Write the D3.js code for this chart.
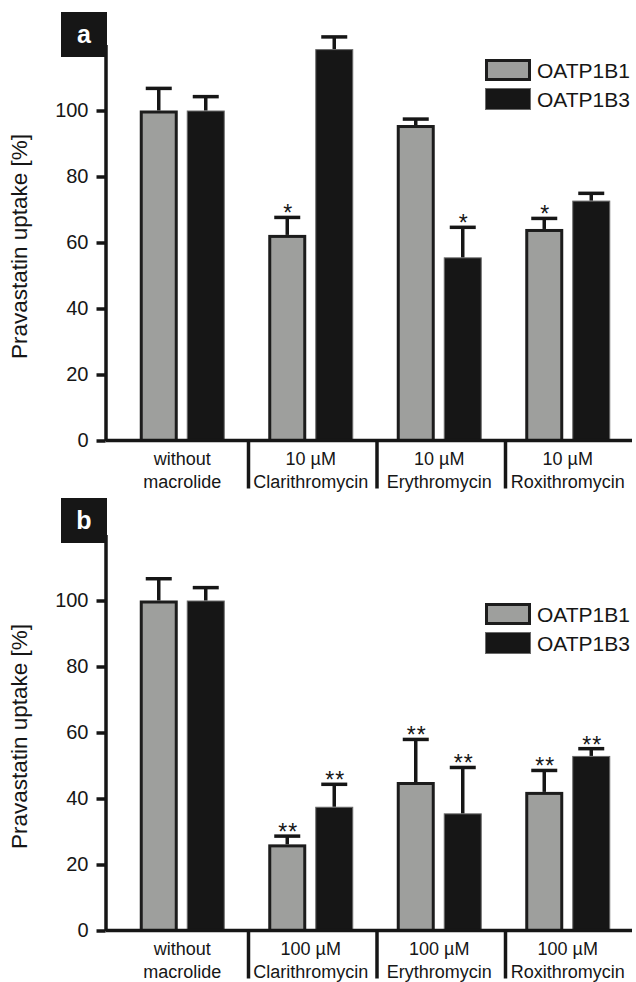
<!DOCTYPE html>
<html>
<head>
<meta charset="utf-8">
<script src="https://cdn.jsdelivr.net/npm/d3@7"></script>
<style>
body { margin: 0; background: #fff; }
svg { display: block; font-family: "Liberation Sans", Arial, sans-serif; }
</style>
</head>
<body>
<svg width="636" height="982"></svg>
<script>
var series = ["OATP1B1", "OATP1B3"];
var groups = ["g1", "g2", "g3", "g4"];
var yTicks = [0, 20, 40, 60, 80, 100];

var labelsTopA = ["without", "10 µM", "10 µM", "10 µM"];
var labelsTopB = ["without", "100 µM", "100 µM", "100 µM"];
var labelsBottom = ["macrolide", "Clarithromycin", "Erythromycin", "Roxithromycin"];

// panel a: 10 µM macrolides
var grayA = [100, 62.3, 95.6, 64.1];
var graySdA = [6.7, 5.3, 1.8, 3.2];
var blackA = [100, 118.6, 55.5, 72.7];
var blackSdA = [4.2, 3.7, 9.1, 2.2];
var grayStarsA = ["", "*", "", "*"];
var blackStarsA = ["", "", "*", ""];

// panel b: 100 µM macrolides
var grayB = [100, 26.1, 45, 42];
var graySdB = [6.6, 2.5, 12.9, 6.5];
var blackB = [100, 37.5, 35.5, 52.9];
var blackSdB = [3.9, 6.8, 13.9, 2.2];
var grayStarsB = ["", "**", "**", "**"];
var blackStarsB = ["", "**", "**", "**"];

var svg = d3.select("svg");
var ink = "#161616";
var grayFill = "#9e9f9d";
var axisX = 105.5;

var y = d3.scaleLinear().domain([0, 120]).range([440.5, 44.5]);
var x0 = d3.scaleBand().domain(groups).range([118, 632]);
var x1 = d3.scaleBand().domain(series).range([0, 85]).paddingInner(9 / 47);

function tr(x, y) {
	return "translate(" + x + ", " + y + ")";
}

function rows(vals, sds, stars, s) {
	return groups.map(function (g, i) {
		return { group: g, series: s, value: vals[i], sd: sds[i], star: stars[i] };
	});
}

function drawPanel(off, letter, boxY, legendY, top, gray, graySd, grayStars, black, blackSd, blackStars) {
	var g = svg.append("g").attr("transform", tr(0, off));
	var data = rows(gray, graySd, grayStars, "OATP1B1").concat(rows(black, blackSd, blackStars, "OATP1B3"));

	// y axis
	var ya = g.append("g")
	    .attr("transform", tr(axisX, 0))
	    .call(d3.axisLeft(y).tickValues(yTicks).tickSize(9).tickPadding(8).tickSizeOuter(0));
	ya.select(".domain").attr("stroke", ink).attr("stroke-width", 3.5);
	ya.selectAll(".tick line").attr("stroke", ink).attr("stroke-width", 3.5);
	ya.selectAll(".tick text")
	    .attr("font-size", 20)
	    .attr("font-family", "Liberation Sans, Arial, sans-serif")
	    .attr("fill", ink);

	// bars
	var bars = g.selectAll(".bar").data(data).enter().append("g")
	    .attr("transform", function (d) { return tr(x0(d.group) + x0.bandwidth() / 2 - 42.5 + x1(d.series), 0); });

	bars.append("rect")
	    .attr("x", function (d) { return d.series == "OATP1B1" ? 1.5 : 0.5; })
	    .attr("y", function (d) { return y(d.value) + (d.series == "OATP1B1" ? 1.5 : 0.5); })
	    .attr("width", function (d) { return x1.bandwidth() - (d.series == "OATP1B1" ? 3 : 1); })
	    .attr("height", function (d) { return y(0) - y(d.value) - 1.5; })
	    .attr("fill", function (d) { return d.series == "OATP1B1" ? grayFill : ink; })
	    .attr("stroke", function (d) { return d.series == "OATP1B1" ? "#1c1c1c" : "#6a6a6a"; })
	    .attr("stroke-width", function (d) { return d.series == "OATP1B1" ? 3 : 1; });

	// error bars
	var cx = x1.bandwidth() / 2;
	bars.append("line")
	    .attr("x1", cx).attr("x2", cx)
	    .attr("y1", function (d) { return y(d.value); })
	    .attr("y2", function (d) { return y(d.value + d.sd); })
	    .attr("stroke", ink).attr("stroke-width", 3.5);
	bars.append("line")
	    .attr("x1", cx - 13).attr("x2", cx + 13)
	    .attr("y1", function (d) { return y(d.value + d.sd); })
	    .attr("y2", function (d) { return y(d.value + d.sd); })
	    .attr("stroke", ink).attr("stroke-width", 3.5);

	// significance
	bars.append("text")
	    .attr("x", cx + 1)
	    .attr("y", function (d) { return y(d.value + d.sd) + 4; })
	    .attr("text-anchor", "middle")
	    .attr("font-size", 23)
	    .attr("letter-spacing", 1)
	    .attr("fill", ink)
	    .text(function (d) { return d.star; });

	// x axis line and group separators
	g.append("line")
	    .attr("x1", axisX).attr("x2", x0.range()[1])
	    .attr("y1", y(0)).attr("y2", y(0))
	    .attr("stroke", ink).attr("stroke-width", 3.5);
	g.selectAll(".sep").data(groups.slice(1)).enter().append("line")
	    .attr("x1", function (d) { return x0(d) + 2; })
	    .attr("x2", function (d) { return x0(d) + 2; })
	    .attr("y1", y(0)).attr("y2", y(0) + 48)
	    .attr("stroke", ink).attr("stroke-width", 3.5);

	g.selectAll(".lab1").data(groups).enter().append("text")
	    .attr("x", function (d) { return x0(d) + x0.bandwidth() / 2; })
	    .attr("y", y(0) + 24)
	    .attr("text-anchor", "middle")
	    .attr("font-size", 18)
	    .attr("fill", ink)
	    .text(function (d, i) { return top[i]; });
	g.selectAll(".lab2").data(groups).enter().append("text")
	    .attr("x", function (d) { return x0(d) + x0.bandwidth() / 2; })
	    .attr("y", y(0) + 47)
	    .attr("text-anchor", "middle")
	    .attr("font-size", 18)
	    .attr("fill", ink)
	    .text(function (d, i) { return labelsBottom[i]; });

	// y label
	g.append("text")
	    .attr("transform", tr(27, (y(0) + y(120)) / 2 + 4) + " rotate(-90)")
	    .attr("text-anchor", "middle")
	    .attr("font-size", 22.5)
	    .attr("fill", ink)
	    .text("Pravastatin uptake [%]");

	// panel letter
	g.append("rect")
	    .attr("x", 61).attr("y", boxY)
	    .attr("width", 46).attr("height", 45)
	    .attr("fill", ink);
	g.append("text")
	    .attr("x", 84).attr("y", boxY + 31)
	    .attr("text-anchor", "middle")
	    .attr("font-size", 25)
	    .attr("font-weight", "bold")
	    .attr("fill", "#fff")
	    .text(letter);

	// legend
	var lg = g.selectAll(".leg").data(series).enter().append("g")
	    .attr("transform", function (d, i) { return tr(485, legendY + i * 29); });
	lg.append("rect")
	    .attr("x", function (d, i) { return i == 0 ? 1.5 : 0.5; })
	    .attr("y", function (d, i) { return i == 0 ? 1.5 : 0.5; })
	    .attr("width", function (d, i) { return i == 0 ? 43 : 45; })
	    .attr("height", function (d, i) { return i == 0 ? 19 : 21; })
	    .attr("fill", function (d, i) { return i == 0 ? grayFill : ink; })
	    .attr("stroke", function (d, i) { return i == 0 ? "#1c1c1c" : "#6a6a6a"; })
	    .attr("stroke-width", function (d, i) { return i == 0 ? 3 : 1; });
	lg.append("text")
	    .attr("x", 52).attr("y", 18.5)
	    .attr("font-size", 21)
	    .attr("fill", ink)
	    .text(function (d) { return d; });
}

drawPanel(0, "a", 12, 59, labelsTopA, grayA, graySdA, grayStarsA, blackA, blackSdA, blackStarsA);
drawPanel(490, "b", 8, 113, labelsTopB, grayB, graySdB, grayStarsB, blackB, blackSdB, blackStarsB);
</script>
</body>
</html>
